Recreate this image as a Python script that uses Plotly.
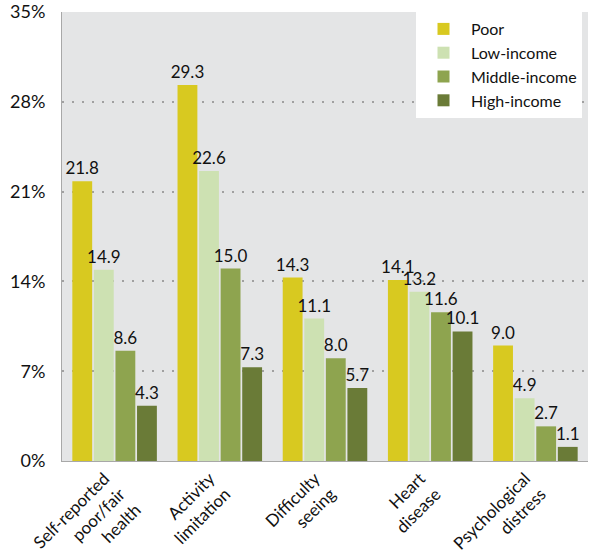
import plotly.graph_objects as go

categories = ["Self-reported<br>poor/fair<br>health", "Activity<br>limitation",
              "Difficulty<br>seeing", "Heart<br>disease", "Psychological<br>distress"]
series_names = ["Poor", "Low-income", "Middle-income", "High-income"]
poor = [21.8, 29.3, 14.3, 14.1, 9.0]
low_income = [14.9, 22.6, 11.1, 13.2, 4.9]
middle_income = [8.6, 15.0, 8.0, 11.6, 2.7]
high_income = [4.3, 7.3, 5.7, 10.1, 1.1]
y_ticks = [0, 7, 14, 21, 28, 35]
y_tick_labels = ["0%", "7%", "14%", "21%", "28%", "35%"]

colors = ["#d8c920", "#cde1b2", "#8ea44f", "#6a7b37"]
FONT = "Lato"

fig = go.Figure()
for name, vals, col in zip(series_names, [poor, low_income, middle_income, high_income], colors):
    fig.add_trace(go.Bar(
        x=categories, y=vals, name=name,
        marker=dict(color=col, line=dict(width=0)),
        texttemplate="%{y:.1f}", textposition="outside",
        constraintext="none", cliponaxis=False,
        textfont=dict(family=FONT, size=17, color="#111111"),
    ))

fig.update_layout(
    width=600, height=555,
    margin=dict(l=62, r=12, t=12, b=94),
    paper_bgcolor="white", plot_bgcolor="#e4e5e6",
    barmode="group", bargap=0.18, bargroupgap=0.08,
    font=dict(family=FONT, size=17, color="#111111"),
    showlegend=True,
    legend=dict(x=0.9886, y=1, xanchor="right", yanchor="top",
                bgcolor="white", borderwidth=0,
                font=dict(family=FONT, size=16, color="#111111"),
                itemwidth=45, tracegroupgap=0),
)
fig.update_xaxes(tickangle=-45, showline=True, linecolor="#a8a8a8", linewidth=1,
                 ticks="", automargin=False, ticklabelshift=-10,
                 tickfont=dict(family=FONT, size=17, color="#111111"),
                 showgrid=False)
fig.update_yaxes(range=[0, 35], tickvals=y_ticks, ticktext=y_tick_labels,
                 showline=True, linecolor="#a8a8a8", linewidth=1,
                 showgrid=True, gridcolor="#a0a0a0", gridwidth=2, griddash="2px,8px",
                 zeroline=False, ticks="", ticklabelstandoff=12, automargin=False,
                 tickfont=dict(family=FONT, size=18, color="#111111"))

fig.write_html("out.html", config={"displayModeBar": False},
               post_script="document.body.style.margin='0';")
